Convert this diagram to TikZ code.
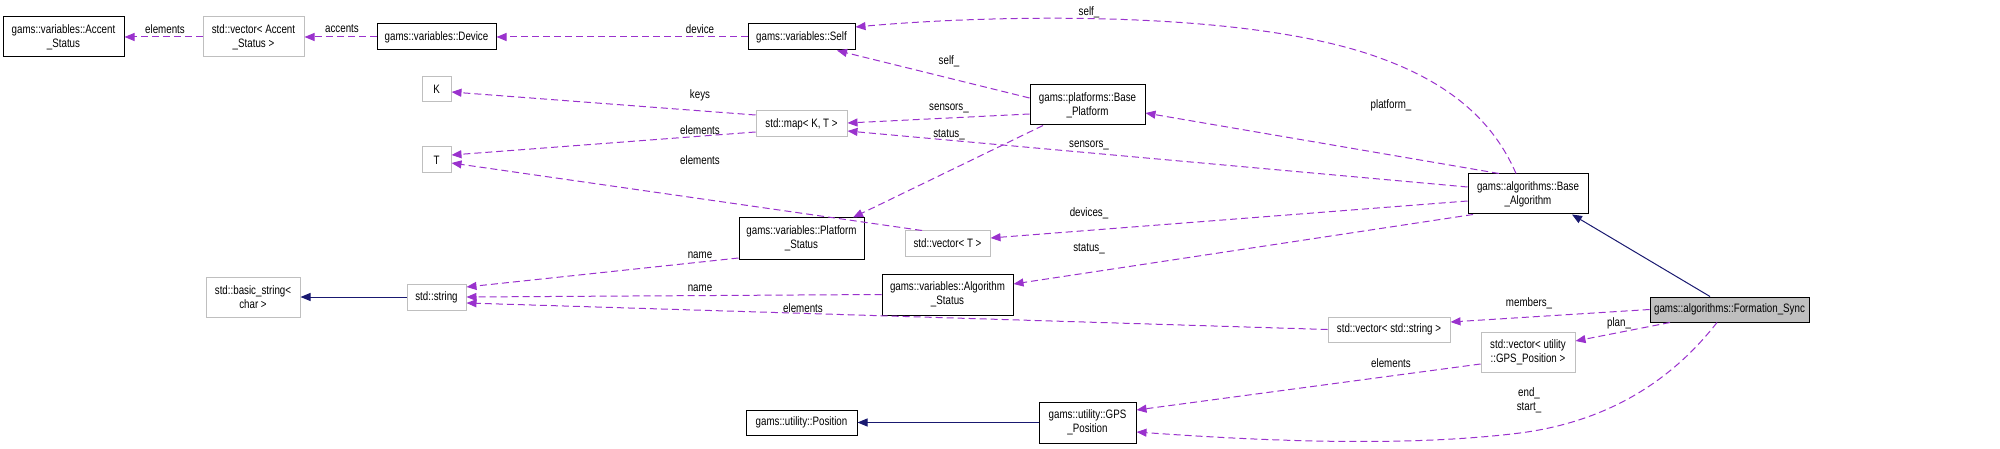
\documentclass[tikz,border=0pt]{standalone}
\usepackage{fontspec}
\setmainfont[FakeStretch=0.8]{Liberation Sans}
\usetikzlibrary{arrows.meta}
\definecolor{edgepurple}{HTML}{9A32CD}
\definecolor{inhnavy}{HTML}{191970}
\definecolor{boxgray}{HTML}{BFBFBF}
\begin{document}
\begin{tikzpicture}[x=1pt,y=-1pt,
  box/.style={draw=black, line width=1pt, inner sep=0pt, align=center,
    font=\fontsize{12.2}{14}\selectfont},
  gbox/.style={box, draw=boxgray},
  rel/.style={draw=edgepurple, line width=1pt, dash pattern=on 7pt off 4pt,
    -{Triangle[length=10pt,width=8pt]}},
  inh/.style={draw=inhnavy, line width=1pt, -{Triangle[length=10pt,width=8pt]}},
  lbl/.style={inner sep=0pt, align=center, font=\fontsize{12.2}{14}\selectfont}]
\useasboundingbox (0,0) rectangle (2000,449);
% nodes
\node[box, minimum width=121pt, minimum height=40pt] (accst) at (63.5,37) {gams::variables::Accent\\\_Status};
\node[gbox, minimum width=101pt, minimum height=40pt] (vacc) at (253.5,37) {std::vector< Accent\\\_Status >};
\node[box, minimum width=119pt, minimum height=26pt] (device) at (436.5,37) {gams::variables::Device};
\node[box, minimum width=107pt, minimum height=26pt] (self) at (801.5,37) {gams::variables::Self};
\node[gbox, minimum width=29pt, minimum height=25pt] (K) at (436.5,89.5) {K};
\node[gbox, minimum width=29pt, minimum height=26pt] (T) at (436.5,160) {T};
\node[gbox, minimum width=91pt, minimum height=26pt] (map) at (801.5,124) {std::map< K, T >};
\node[box, minimum width=115pt, minimum height=40pt] (bplat) at (1087.5,105) {gams::platforms::Base\\\_Platform};
\node[box, minimum width=120pt, minimum height=40pt] (balg) at (1528,194) {gams::algorithms::Base\\\_Algorithm};
\node[box, minimum width=125pt, minimum height=41pt] (pstat) at (801.5,238.5) {gams::variables::Platform\\\_Status};
\node[gbox, minimum width=85pt, minimum height=25pt] (vT) at (947.5,243.5) {std::vector< T >};
\node[box, minimum width=131pt, minimum height=41pt] (astat) at (947.5,294.5) {gams::variables::Algorithm\\\_Status};
\node[gbox, minimum width=94pt, minimum height=40pt] (bstr) at (253,297) {std::basic\_string<\\char >};
\node[gbox, minimum width=59pt, minimum height=26pt] (str) at (436.5,297) {std::string};
\node[gbox, minimum width=122pt, minimum height=25pt] (vstr) at (1389,329.5) {std::vector< std::string >};
\node[gbox, minimum width=94pt, minimum height=40pt] (vgps) at (1528,352) {std::vector< utility\\::GPS\_Position >};
\node[box, fill=boxgray, minimum width=159pt, minimum height=25pt] (fs) at (1729.5,309.5) {gams::algorithms::Formation\_Sync};
\node[box, minimum width=111pt, minimum height=25pt] (pos) at (801.5,422.5) {gams::utility::Position};
\node[box, minimum width=97pt, minimum height=41pt] (gps) at (1087.5,422.5) {gams::utility::GPS\\\_Position};
% connectors
\draw[rel] (vacc.west) -- (accst.east);
\draw[rel] (device.west) -- (vacc.east);
\draw[rel] (self.west) -- (device.east);
\draw[rel] ([xshift=-12pt]balg.north) .. controls (1495,125) and (1455,85) .. (1380,58)
  .. controls (1250,10) and (1000,14) .. ([yshift=10pt]self.east);
\draw[rel] ([yshift=7pt]bplat.west) -- ([xshift=35.5pt]self.south);
\draw[rel] ([yshift=-9pt]bplat.west) -- ([yshift=1pt]map.east);
\draw[rel] ([xshift=-44.5pt]bplat.south) -- ([xshift=51.5pt]pstat.north);
\draw[rel] ([xshift=-29pt]balg.north) -- ([yshift=-8pt]bplat.east);
\draw[rel] ([yshift=7pt]balg.west) -- ([yshift=-7pt]map.east);
\draw[rel] ([yshift=-7pt]balg.west) -- ([yshift=5.5pt]vT.east);
\draw[rel] ([xshift=-55pt]balg.south) -- ([yshift=10.5pt]astat.east);
\draw[rel] ([yshift=9pt]map.west) -- ([yshift=-2.5pt]K.east);
\draw[rel] ([yshift=-8pt]map.west) -- ([yshift=5pt]T.east);
\draw[rel] ([xshift=-25.5pt]vT.north) -- ([yshift=-3pt]T.east);
\draw[rel] ([yshift=-19.5pt]pstat.west) -- ([yshift=10pt]str.east);
\draw[rel] (astat.west) -- (str.east);
\draw[rel] (vstr.west) -- ([yshift=-6pt]str.east);
\draw[inh] (str.west) -- (bstr.east);
\draw[inh] ([xshift=-19.5pt]fs.north) -- ([xshift=44pt]balg.south);
\draw[rel] (fs.west) -- ([yshift=7.5pt]vstr.east);
\draw[rel] ([xshift=-59.5pt]fs.south) -- ([yshift=11pt]vgps.east);
\draw[rel] ([yshift=-12pt]vgps.west) -- ([yshift=12.5pt]gps.east);
\draw[rel] ([xshift=-12.5pt]fs.south) .. controls (1680,370) and (1620,420) .. (1520,433)
  .. controls (1400,448) and (1250,440) .. ([yshift=-9.5pt]gps.east);
\draw[inh] (gps.west) -- (pos.east);
% labels
\node[lbl] (l1) at (165,29) {elements};
\node[lbl] (l2) at (342,29) {accents};
\node[lbl] (l3) at (700,29) {device};
\node[lbl] (l4) at (1089,12) {self\_};
\node[lbl] (l5) at (949,61) {self\_};
\node[lbl] (l6) at (700,95) {keys};
\node[lbl] (l7) at (949,108) {sensors\_};
\node[lbl] (l8) at (700,130) {elements};
\node[lbl] (l9) at (949,135) {status\_};
\node[lbl] (l10) at (1089,145) {sensors\_};
\node[lbl] (l11) at (700,160) {elements};
\node[lbl] (l12) at (1391,105) {platform\_};
\node[lbl] (l13) at (700,255) {name};
\node[lbl] (l14) at (700,288) {name};
\node[lbl] (l15) at (803,308) {elements};
\node[lbl] (l16) at (1089,213) {devices\_};
\node[lbl] (l17) at (1089,249) {status\_};
\node[lbl] (l18) at (1529,303) {members\_};
\node[lbl] (l19) at (1619,323) {plan\_};
\node[lbl] (l20) at (1391,363) {elements};
\node[lbl] (l21) at (1529,400) {end\_\\start\_};
\end{tikzpicture}
\end{document}
